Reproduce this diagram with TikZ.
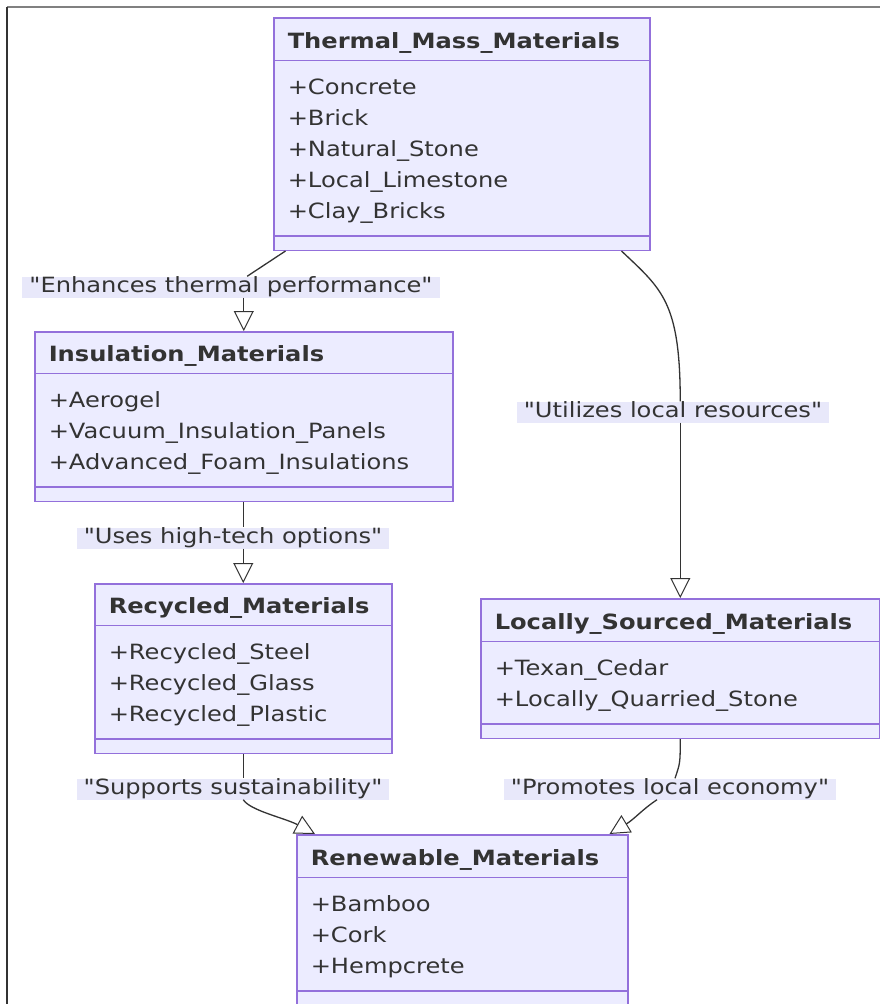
\documentclass[tikz,border=0pt]{standalone}
\usepackage{fontspec}
\newfontfamily\dvsans{DejaVu Sans}[FakeStretch=1.15]
\setlength{\parindent}{0pt}
\definecolor{clsfill}{RGB}{236,236,255}
\definecolor{clsline}{RGB}{147,112,219}
\definecolor{lblfill}{RGB}{232,232,250}
\definecolor{edgegray}{RGB}{51,51,51}
\definecolor{txtgray}{RGB}{51,51,51}
\usetikzlibrary{arrows.meta, shapes.multipart}

\begin{document}
\begin{tikzpicture}[x=1pt, y=-1pt, font=\dvsans\fontsize{21}{31}\selectfont,
  cls/.style={rectangle split, rectangle split parts=3, draw=clsline, fill=clsfill, line width=1.5pt, inner xsep=14pt, inner ysep=0pt, align=left, anchor=north west, text=txtgray},
  lbl/.style={fill=lblfill, inner xsep=7pt, inner ysep=0pt, text height=16pt, text depth=5pt, text=txtgray},
  rel/.style={draw=edgegray, line width=1.3pt},
  tri/.style={rel, -{Triangle[length=20pt, width=20pt, fill=white, line width=1pt]}}]
  \useasboundingbox (0,0) rectangle (880,1004);
  \draw[gray, line width=2pt] (7,7) -- (880,7);
  \draw[edgegray, line width=1.5pt] (7,7) -- (7,1004);

  \node[cls, text width=348pt] (thermal) at (273,17) {\centering\rule[-11pt]{0pt}{41pt}\textbf{Thermal\_Mass\_Materials}
    \nodepart{two}\rule{0pt}{33pt}+Concrete\\+Brick\\+Natural\_Stone\\+Local\_Limestone\\+Clay\_Bricks\rule[-17pt]{0pt}{0pt}
    \nodepart{three}\rule{0pt}{13pt}};
  \node[cls, text width=390pt] (insul) at (34,331) {\centering\rule[-11pt]{0pt}{40pt}\textbf{Insulation\_Materials}
    \nodepart{two}\rule{0pt}{33pt}+Aerogel\\+Vacuum\_Insulation\_Panels\\+Advanced\_Foam\_Insulations\rule[-17pt]{0pt}{0pt}
    \nodepart{three}\rule{0pt}{13pt}};
  \node[cls, text width=269pt] (recycled) at (94,583) {\centering\rule[-11pt]{0pt}{40pt}\textbf{Recycled\_Materials}
    \nodepart{two}\rule{0pt}{33pt}+Recycled\_Steel\\+Recycled\_Glass\\+Recycled\_Plastic\rule[-17pt]{0pt}{0pt}
    \nodepart{three}\rule{0pt}{13pt}};
  \node[cls, text width=371pt] (locally) at (480,598) {\centering\rule[-11pt]{0pt}{41pt}\textbf{Locally\_Sourced\_Materials}
    \nodepart{two}\rule{0pt}{33pt}+Texan\_Cedar\\+Locally\_Quarried\_Stone\rule[-17pt]{0pt}{0pt}
    \nodepart{three}\rule{0pt}{13pt}};
  \node[cls, text width=303pt] (renewable) at (296,834) {\centering\rule[-11pt]{0pt}{41pt}\textbf{Renewable\_Materials}
    \nodepart{two}\rule{0pt}{33pt}+Bamboo\\+Cork\\+Hempcrete\rule[-17pt]{0pt}{0pt}
    \nodepart{three}\rule{0pt}{13pt}};

  \node[lbl] (l1) at (231,287) {"Enhances thermal performance"};
  \node[lbl] (l2) at (673,412) {"Utilizes local resources"};
  \node[lbl] (l3) at (233,538) {"Uses high-tech options"};
  \node[lbl] (l4) at (233,789) {"Supports sustainability"};
  \node[lbl] (l5) at (670,789) {"Promotes local economy"};

  \path (thermal) edge[rel] (l1)
        (l1.south -| insul.north) edge[tri] (insul.north)
        (insul.south) edge[rel] (insul.south |- l3.north)
        (l3.south -| recycled.north) edge[tri] (recycled.north)
        (recycled.south) edge[rel] (recycled.south |- l4.north)
        (l2.south -| locally.north) edge[tri] (locally.north);
  \draw[rel] ([xshift=-29pt]thermal.south east) .. controls +(40,38) and +(0,-100) .. (l2.north -| locally.north);
  \draw[tri] (l4.south -| recycled.south) .. controls +(7,11) and +(-30,-16) .. ([xshift=19pt]renewable.north west);
  \draw[rel] (locally.south) .. controls +(0,25) and +(5,-15) .. ([xshift=5pt]l5.north);
  \draw[tri] ([xshift=-13pt]l5.south) .. controls +(-15,10) and +(25,-15) .. ([xshift=-19pt]renewable.north east);
\end{tikzpicture}
\end{document}
